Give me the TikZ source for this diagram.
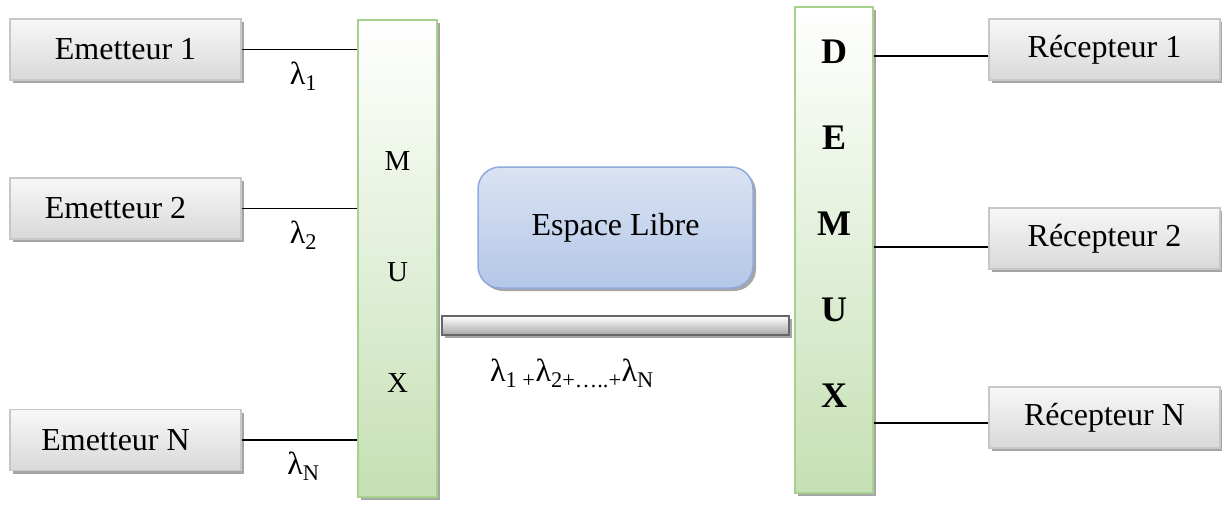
\documentclass[tikz,border=0pt]{standalone}
\usepackage{fontspec}
\setmainfont{Liberation Serif}
\usetikzlibrary{shapes.geometric, arrows, shadows, positioning}
\definecolor{bordvert}{HTML}{A9D18E}
\definecolor{fondvert}{HTML}{C5E0B4}
\definecolor{bordbleu}{HTML}{8FAADC}
\definecolor{hautbleu}{HTML}{DAE3F3}
\definecolor{basbleu}{HTML}{B4C7E7}
\definecolor{ombre}{HTML}{A6A6A6}
\tikzstyle{source} = [rectangle, minimum width=231pt, minimum height=61pt, text centered, draw=black!22, line width=1.5pt, top color=black!3, bottom color=black!15, drop shadow={shadow xshift=3pt, shadow yshift=-3pt, fill=ombre, opacity=1}, font=\fontsize{32}{36}\selectfont]
\tikzstyle{mux} = [rectangle, minimum width=79pt, minimum height=477pt, draw=bordvert, line width=1.5pt, top color=white, bottom color=fondvert, drop shadow={shadow xshift=3pt, shadow yshift=-3pt, fill=ombre, opacity=1}]
\tikzstyle{libre} = [rectangle, rounded corners=22pt, minimum width=275pt, minimum height=121pt, text centered, draw=bordbleu, line width=1.5pt, top color=hautbleu, bottom color=basbleu, drop shadow={shadow xshift=3pt, shadow yshift=-3pt, fill=ombre, opacity=1}, font=\fontsize{32}{36}\selectfont]
\tikzstyle{fibre} = [rectangle, minimum width=347pt, minimum height=19pt, draw=black!60, line width=1.5pt, top color=white, bottom color=black!35, drop shadow={shadow xshift=3pt, shadow yshift=-3pt, fill=ombre, opacity=1}]
\tikzstyle{lettre} = [align=center, font=\fontsize{29}{111}\selectfont]
\tikzstyle{lettregras} = [align=center, font=\fontsize{36}{86}\selectfont\bfseries]
\tikzstyle{onde} = [font=\fontsize{32}{36}\selectfont]
\tikzstyle{lien} = [line width=1.5pt]

\begin{document}
\begin{tikzpicture}[x=1pt, y=-1pt, node distance=159pt]
\useasboundingbox (0,0) rectangle (1222,507);

% Blocs
\node (em1) [source] at (125.5,49.5) {Emetteur 1};
\node (em2) [source, below of=em1] {Emetteur 2\hspace*{20pt}};
\node (emN) [source, below of=em2, yshift=-72.5pt] {Emetteur N\hspace*{20pt}};
\node (mux) [mux] at (397.5,258.5) {};
\node (muxtxt) [lettre, yshift=-13.5pt] at (mux.center) {M\\U\\X};
\node (libre) [libre] at (615.5,227.5) {\raisebox{4pt}{Espace Libre}};
\node (fibre) [fibre, node distance=98pt, below of=libre] {};
\node (somme) [onde, node distance=48pt, below of=fibre, xshift=-43.5pt] {λ\textsubscript{1 +}λ\textsubscript{2+…..+}λ\textsubscript{N}};
\node (demux) [mux, minimum width=78pt, minimum height=486pt] at (834,250) {};
\node (demuxtxt) [lettregras, yshift=26pt] at (demux.center) {D\\E\\M\\U\\X};
\node (rec1) [source] at (1104.5,49.5) {Récepteur 1};
\node (rec2) [source, node distance=189pt, below of=rec1] {Récepteur 2};
\node (recN) [source, node distance=179pt, below of=rec2] {Récepteur N};

% Liaisons
\draw [lien] (em1.east) -- (em1.east -| mux.west) node[midway, below, onde, xshift=4pt, yshift=-8pt] {λ\textsubscript{1}};
\draw [lien] (em2.east) -- (em2.east -| mux.west) node[midway, below, onde, xshift=4pt, yshift=-8pt] {λ\textsubscript{2}};
\draw [lien] (emN.east) -- (emN.east -| mux.west) node[midway, below, onde, xshift=4pt, yshift=-8pt] {λ\textsubscript{N}};

\draw [lien] ([yshift=-6.5pt]rec1.west) -- ([yshift=-6.5pt]rec1.west -| demux.east);
\draw [lien] ([yshift=-8.5pt]rec2.west) -- ([yshift=-8.5pt]rec2.west -| demux.east);
\draw [lien] ([yshift=-5.5pt]recN.west) -- ([yshift=-5.5pt]recN.west -| demux.east);

\end{tikzpicture}
\end{document}
